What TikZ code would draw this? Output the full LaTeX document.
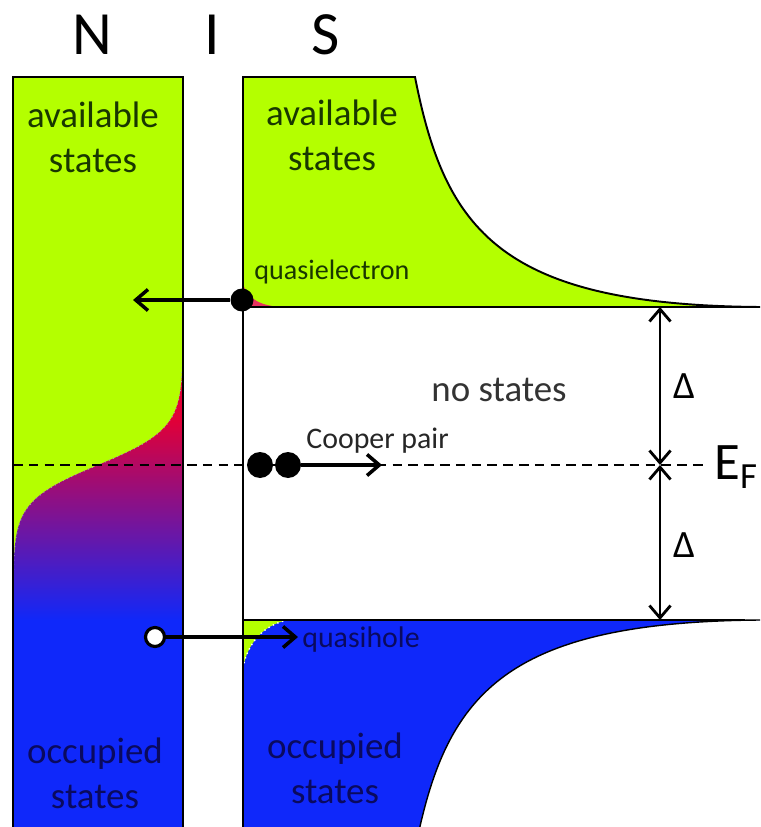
\documentclass[tikz,border=0pt]{standalone}
\usepackage{fontspec}
\setmainfont{Carlito}
\usetikzlibrary{arrows.meta, positioning}

\definecolor{availGreen}{RGB}{180,255,0}
\definecolor{occBlue}{RGB}{15,40,250}
\definecolor{tailRed}{RGB}{225,0,55}
\definecolor{midPurple}{RGB}{125,15,175}
\definecolor{greenText}{RGB}{25,55,0}
\definecolor{blueText}{RGB}{10,10,95}

\begin{document}
\begin{tikzpicture}[x=0.02cm, y=-0.02cm,
		edge/.style = {line width=1.1pt},
		transfer/.style = {line width=2pt, -{Straight Barb[length=7pt, width=12pt, line width=2pt]}},
		gap/.style = {line width=1.6pt, {Straight Barb[length=7pt, width=12pt]}-{Straight Barb[length=7pt, width=12pt]}},
		% Estilo para las particulas
		particle/.style = {circle, fill=black, inner sep=0pt, minimum size=0.46cm},
		pairpart/.style = {circle, fill=black, inner sep=0pt, minimum size=0.52cm},
		hole/.style = {circle, draw=black, line width=1.8pt, fill=white, inner sep=0pt, minimum size=0.38cm},
		title/.style = {font=\fontsize{35}{40}\selectfont},
		region/.style = {font=\fontsize{21}{25.5}\selectfont, align=center},
		label/.style = {font=\fontsize{16}{19}\selectfont, anchor=west, inner sep=0pt}
		]
		\useasboundingbox (0,0) rectangle (760,827);
		
		% --- METAL NORMAL (N) ---
		\fill[availGreen] (13,77) rectangle (183,827);
		\begin{scope}
			\clip (183,827) -- (183,320) -- plot[domain=330:610, samples=80, variable=\t] ({13+170/(1+exp((\t-465)/18))}, \t) -- (13,620) -- (13,827) -- cycle;
			\fill[tailRed] (13,320) rectangle (183,421);
			\shade[top color=tailRed, middle color=midPurple, bottom color=occBlue] (13,420) rectangle (183,621);
			\fill[occBlue] (13,620) rectangle (183,827);
		\end{scope}
		\draw[gray!70, dotted, line width=0.6pt] plot[domain=340:600, samples=60, variable=\t] ({13+170/(1+exp((\t-465)/18))}, \t);
		\draw[edge] (13,827) -- (13,77) -- (183,77) -- (183,827);
		
		% --- SUPERCONDUCTOR (S) ---
		\fill[availGreen] (243,77) -- (415,77) .. controls (445,230) and (500,305) .. (760,307) -- (243,307) -- cycle;
		\fill[tailRed!80] (243,284) .. controls (248,300) and (262,306) .. (282,307) -- (243,307) -- cycle;
		\fill[occBlue] (243,620) -- (760,620) .. controls (500,622) and (445,697) .. (415,850) -- (243,850) -- cycle;
		\fill[availGreen] (243,620) -- (288,620) .. controls (262,625) and (247,645) .. (243,668) -- cycle;
		\draw[white, dotted, line width=0.8pt] (288,620) .. controls (262,625) and (247,645) .. (243,668);
		\draw[edge] (243,827) -- (243,77) -- (415,77) .. controls (445,230) and (500,305) .. (760,307) -- (243,307);
		\draw[edge] (243,620) -- (745,620);
		\draw[edge, line width=0.8pt] (760,620) .. controls (500,622) and (445,697) .. (415,850);
		
		% --- NIVEL DE FERMI ---
		\coordinate (efLeft) at (13,465);
		\coordinate (efRight) at (708,465);
		\draw[line width=1.3pt, dash pattern=on 5.5pt off 3.5pt] (efLeft) -- (efRight);
		
		% --- GAP ---
		\coordinate (gapTop) at (660,307);
		\coordinate (gapMid) at (660,465);
		\coordinate (gapBot) at (660,620);
		\draw[gap] (gapTop) -- (gapMid);
		\draw[gap] (gapMid) -- (gapBot);
		\node[font=\fontsize{22}{26}\selectfont] (deltaUp) at (684,386) {Δ};
		\node[font=\fontsize{22}{26}\selectfont] (deltaDown) at (684,545) {Δ};
		\node[font=\fontsize{30}{34}\selectfont, anchor=west, inner sep=0pt] (ef) at (714,467) {E\textsubscript{F}};
		
		% --- PARTICULAS Y TUNELEO ---
		\node[particle] (qe) at (242,300) {};
		\coordinate (qeEnd) at (133,300);
		\draw[transfer] (qe) -- (qeEnd);
		
		\node[pairpart] (cpA) at (260,465) {};
		\node[pairpart] (cpB) at (288,465) {};
		\coordinate (cpEnd) at (382,465);
		\draw[transfer] (cpB) -- (cpEnd);
		
		\node[hole] (qh) at (155,637) {};
		\coordinate (qhEnd) at (298,637);
		\draw[transfer] (qh) -- (qhEnd);
		
		% --- ETIQUETAS ---
		\node[title] (nTitle) at (92,35) {N};
		\node[title] (iTitle) at (212,35) {I};
		\node[title] (sTitle) at (326,35) {S};
		
		\node[region, text=greenText] (nAvail) at (93,137) {available\\states};
		\node[region, text=greenText] (sAvail) at (332,135) {available\\states};
		\node[region, text=blueText] (nOcc) at (95,773) {occupied\\states};
		\node[region, text=blueText] (sOcc) at (335,768) {occupied\\states};
		\node[region, text=black!80] (gapText) at (499,390) {no states};
		
		\node[label, text=greenText] (qeText) at (254,272) {quasielectron};
		\node[label, text=black!85, font=\fontsize{17}{20}\selectfont] (cpText) at (306,441) {Cooper pair};
		\node[label, text=blueText, font=\fontsize{17}{20}\selectfont] (qhText) at (302,640) {quasihole};
	\end{tikzpicture}
\end{document}
